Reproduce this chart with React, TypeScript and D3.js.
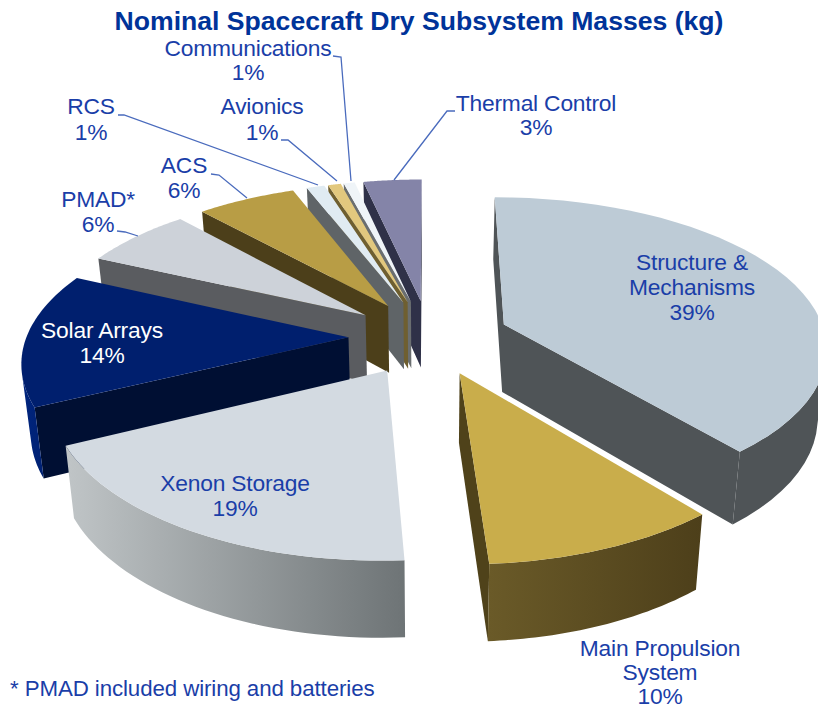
import React from "react";
import * as d3 from "d3";

const categories = ["Structure", "Main Propulsion", "Xenon Storage", "Solar Arrays", "PMAD", "ACS", "RCS", "Avionics", "Communications", "Thermal Control"];
const values = [39, 10, 18.8, 14.1, 6.45, 5.8, 1.05, 0.75, 0.65, 3.4];
const topColors = ["#bdcbd6", "#c9ad4b", "#d3dae1", "#001f6e", "#cdd2d9", "#b89d45", "#e0ebf2", "#e2c87e", "#eff4f8", "#8484a8"];
const wallColors = ["#4f5457", "#4f421a", "#5c6063", "#000f33", "#5a5c60", "#4c3f1a", "#5f6467", "#6f5f30", "#6a6e70", "#2f3148"];
const rimLeft = ["#4f5457", "#6a5a28", "#c0c5c7", "#00257f", "#5a5c60", "#4c3f1a", "#5f6467", "#6f5f30", "#6a6e70", "#2f3148"];
const rimRight = ["#4f5457", "#4d3f1a", "#6e7476", "#001a60", "#5a5c60", "#4c3f1a", "#5f6467", "#6f5f30", "#6a6e70", "#2f3148"];

const title = "Nominal Spacecraft Dry Subsystem Masses (kg)";
const footnote = "* PMAD included wiring and batteries";
const labelLines: [string, number, number][] = [
  ["Structure &", 692, 270], ["Mechanisms", 692, 295], ["39%", 692, 320],
  ["Main Propulsion", 660, 656], ["System", 660, 680], ["10%", 660, 704],
  ["Xenon Storage", 235, 491], ["19%", 235, 516],
  ["Solar Arrays", 102, 338], ["14%", 102, 363],
  ["PMAD*", 98, 207], ["6%", 98, 232],
  ["ACS", 184, 173], ["6%", 184, 198],
  ["RCS", 91, 114], ["1%", 91, 140],
  ["Avionics", 262, 114], ["1%", 262, 140],
  ["Communications", 248, 56], ["1%", 248, 80],
  ["Thermal Control", 536, 111], ["3%", 536, 135],
];
const leaders: [number, number][][] = [
  [[333, 56], [341, 57], [351, 181]],
  [[118, 115], [124, 115], [318, 185]],
  [[281, 140], [288, 140], [337, 181]],
  [[211, 174], [219, 175], [247, 198]],
  [[117, 231], [125, 232], [138, 236]],
  [[455, 111], [447, 111], [394, 180]],
];

const cx = 429, cy = 337, Rx = 322, Ry = 150, k = 0.1515, kx = 0.14, explode = 0.25, depth = 68, taper = 0.977;

type P = { x: number; y: number; bx: number; by: number };
function project(dx: number, dz: number): P {
  const s = 1 / (1 - k * dz);
  const sx = 1 / (1 - kx * dz);
  const x = cx + dx * Rx * sx;
  const y = cy + dz * Ry * s;
  return { x, y, bx: cx + (x - cx) * taper, by: y + depth * Math.pow(s, 0.62) };
}

const arcs = d3.pie<number>().sort(null).value((d) => d).startAngle(0).endAngle(2 * Math.PI)(values);
const line = d3.line<[number, number]>().x((d) => d[0]).y((d) => d[1]);
const quad = (p: P, q: P) => line([[p.x, p.y], [q.x, q.y], [q.bx, q.by], [p.bx, p.by]]) + "Z";
const isFront = (p: P, q: P) => {
  const pts = [[p.x, p.y], [q.x, q.y], [q.bx, q.by], [p.bx, p.by]];
  let area = 0;
  pts.forEach((a, i) => {
    const b = pts[(i + 1) % 4];
    area += a[0] * b[1] - b[0] * a[1];
  });
  return area < 0;
};

const slices = arcs.map((a, i) => {
  const mid = (a.startAngle + a.endAngle) / 2;
  const ox = Math.sin(mid) * explode;
  const oz = -Math.cos(mid) * explode;
  const apex = project(ox, oz);
  const angles = d3.range(0, 41).map((j) => a.startAngle + ((a.endAngle - a.startAngle) * j) / 40);
  const rim = angles.map((t) => project(ox + Math.sin(t), oz - Math.cos(t)));
  const top = line([[apex.x, apex.y], ...rim.map((p) => [p.x, p.y] as [number, number])]) + "Z";
  const walls = [
    isFront(apex, rim[0]) ? quad(apex, rim[0]) : "",
    isFront(rim[rim.length - 1], apex) ? quad(rim[rim.length - 1], apex) : "",
  ].join("");
  const rimPath = rim.slice(0, -1).map((p, j) => (isFront(p, rim[j + 1]) ? quad(p, rim[j + 1]) : "")).join("");
  const xs = rim.map((p) => p.x);
  return { i, top, walls, rimPath, oz, x0: d3.min(xs)!, x1: d3.max(xs)! };
});
const ordered = [...slices].sort((a, b) => a.oz - b.oz);

export default function App() {
  const font = "'Liberation Sans', Arial, sans-serif";
  return (
    <svg width={818} height={705} viewBox="0 0 818 705" style={{ position: "absolute", left: 0, top: 0, display: "block", background: "#fff" }}>
      <defs>
        {slices.map((s) => (
          <linearGradient key={s.i} id={`rim${s.i}`} gradientUnits="userSpaceOnUse" x1={s.x0} x2={s.x1} y1={0} y2={0}>
            <stop offset="0" stopColor={rimLeft[s.i]} />
            <stop offset="1" stopColor={rimRight[s.i]} />
          </linearGradient>
        ))}
      </defs>
      {ordered.map((s) => (
        <g key={s.i} data-name={categories[s.i]}>
          <path d={s.walls} fill={wallColors[s.i]} />
          <path d={s.rimPath} fill={`url(#rim${s.i})`} />
          <path d={s.top} fill={topColors[s.i]} />
        </g>
      ))}
      {leaders.map((l, i) => (
        <path key={i} d={line(l)!} fill="none" stroke="#4a6bbd" strokeWidth={1.3} />
      ))}
      <text x={419} y={30} textAnchor="middle" fontFamily={font} fontWeight="bold" fontSize={26.6} fill="#003399">{title}</text>
      {labelLines.map(([t, x, y], i) => (
        <text key={i} x={x} y={y} textAnchor="middle" fontFamily={font} fontSize={22.8} letterSpacing={-0.2}
          fill={t === "Solar Arrays" || t === "14%" ? "#ffffff" : "#1a3ea8"}>{t}</text>
      ))}
      <text x={10} y={696} fontFamily={font} fontSize={22.3} letterSpacing={-0.1} fill="#1a3ea8">{footnote}</text>
    </svg>
  );
}
